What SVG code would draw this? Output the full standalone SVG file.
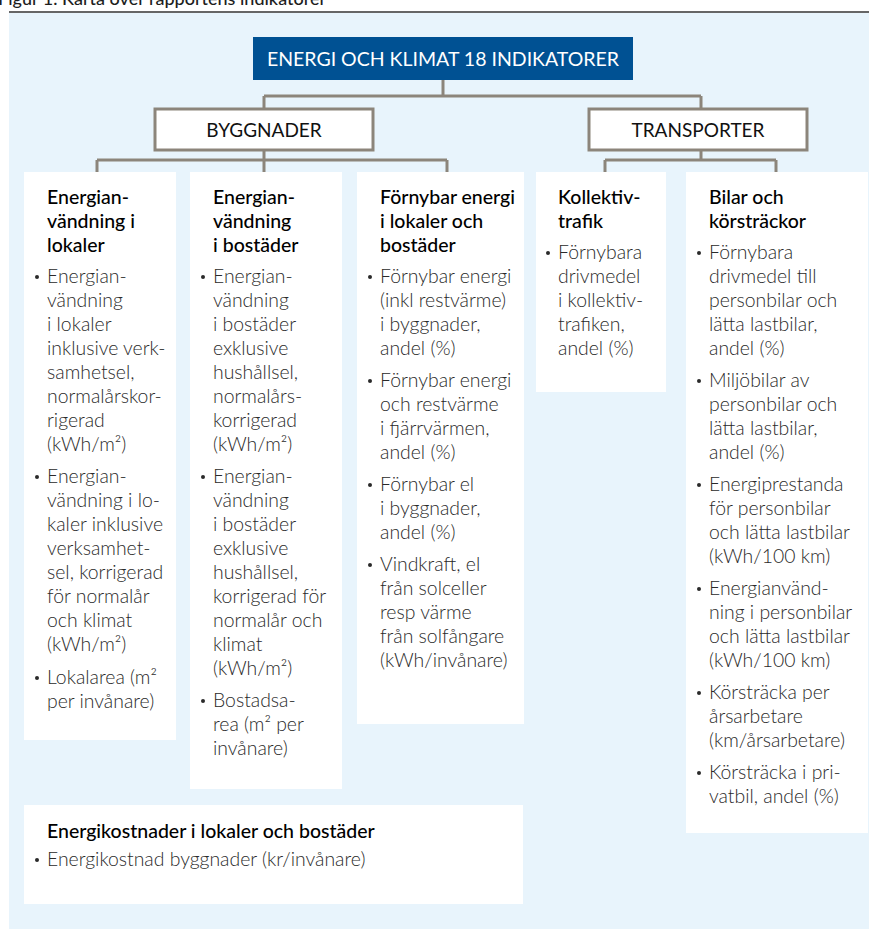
<svg xmlns="http://www.w3.org/2000/svg" width="869" height="930" viewBox="0 0 869 930">
  <style>
    .bg { fill: #e8f4fc; }
    .card { fill: #ffffff; }
    .cat { fill: #ffffff; stroke: #8c857b; stroke-width: 3; }
    .wire { fill: none; stroke: #8c857b; stroke-width: 3; }
    text { font-family: Lato, "Open Sans", sans-serif; fill: #1e1e1e; }
    .cap { font-size: 18px; font-weight: 500; }
    .title { font-size: 19.5px; fill: #ffffff; text-anchor: middle; }
    .catlbl { font-size: 19px; text-anchor: middle; fill: #111; }
    .h { font-size: 19.5px; font-weight: 500; fill: #000; }
    .b { font-size: 19.4px; font-weight: 300; fill: #2a2a2a; }
    .dot { fill: #2a2a2a; }
  </style>

  <!-- caption and rule -->
  <text class="cap" x="-2" y="5">Figur 1. Karta över rapportens indikatorer</text>
  <line x1="9" y1="12" x2="869" y2="12" stroke="#333" stroke-width="1.5"/>
  <rect class="bg" x="9" y="13" width="860" height="916"/>

  <!-- connectors -->
  <g id="connectors">
    <path class="wire" d="M443 80 V96 M264 96 H701 M264 96 V108 M701 96 V108"/>
    <path class="wire" d="M264 150 V160 M97 160 H447 M97 160 V172 M264 160 V172 M447 160 V172"/>
    <path class="wire" d="M701 150 V160 M605 160 H776 M605 160 V172 M776 160 V172"/>
  </g>

  <!-- root -->
  <g id="root">
    <rect x="253" y="37" width="380" height="43" fill="#005193"/>
    <text class="title" x="443" y="65.5">ENERGI OCH KLIMAT 18 INDIKATORER</text>
  </g>

  <g id="byggnader">
    <rect class="cat" x="155" y="109" width="218" height="41"/>
    <text class="catlbl" x="264" y="136.5">BYGGNADER</text>
  </g>

  <g id="transporter">
    <rect class="cat" x="589" y="109" width="218" height="41"/>
    <text class="catlbl" x="698" y="136.5">TRANSPORTER</text>
  </g>

  <!-- column 1 -->
  <g id="lokaler">
    <rect class="card" x="24" y="172" width="152" height="568"/>
    <text class="h" x="47" y="204">Energian-</text>
    <text class="h" x="47" y="228">vändning i</text>
    <text class="h" x="47" y="252">lokaler</text>
    <circle class="dot" cx="37" cy="277" r="2"/>
    <text class="b" x="47" y="283">Energian-</text>
    <text class="b" x="47" y="307">vändning</text>
    <text class="b" x="47" y="331">i lokaler</text>
    <text class="b" x="47" y="355">inklusive verk-</text>
    <text class="b" x="47" y="379">samhetsel,</text>
    <text class="b" x="47" y="403">normalårskor-</text>
    <text class="b" x="47" y="427">rigerad</text>
    <text class="b" x="47" y="451">(kWh/m²)</text>
    <circle class="dot" cx="37" cy="477" r="2"/>
    <text class="b" x="47" y="483">Energian-</text>
    <text class="b" x="47" y="507">vändning i lo-</text>
    <text class="b" x="47" y="531">kaler inklusive</text>
    <text class="b" x="47" y="555">verksamhet-</text>
    <text class="b" x="47" y="579">sel, korrigerad</text>
    <text class="b" x="47" y="603">för normalår</text>
    <text class="b" x="47" y="627">och klimat</text>
    <text class="b" x="47" y="651">(kWh/m²)</text>
    <circle class="dot" cx="37" cy="678" r="2"/>
    <text class="b" x="47" y="684">Lokalarea (m²</text>
    <text class="b" x="47" y="708">per invånare)</text>
  </g>

  <!-- column 2 -->
  <g id="bostader">
    <rect class="card" x="190" y="172" width="152" height="617"/>
    <text class="h" x="213" y="204">Energian-</text>
    <text class="h" x="213" y="228">vändning</text>
    <text class="h" x="213" y="252">i bostäder</text>
    <circle class="dot" cx="203" cy="277" r="2"/>
    <text class="b" x="213" y="283">Energian-</text>
    <text class="b" x="213" y="307">vändning</text>
    <text class="b" x="213" y="331">i bostäder</text>
    <text class="b" x="213" y="355">exklusive</text>
    <text class="b" x="213" y="379">hushållsel,</text>
    <text class="b" x="213" y="403">normalårs-</text>
    <text class="b" x="213" y="427">korrigerad</text>
    <text class="b" x="213" y="451">(kWh/m²)</text>
    <circle class="dot" cx="203" cy="477" r="2"/>
    <text class="b" x="213" y="483">Energian-</text>
    <text class="b" x="213" y="507">vändning</text>
    <text class="b" x="213" y="531">i bostäder</text>
    <text class="b" x="213" y="555">exklusive</text>
    <text class="b" x="213" y="579">hushållsel,</text>
    <text class="b" x="213" y="603">korrigerad för</text>
    <text class="b" x="213" y="627">normalår och</text>
    <text class="b" x="213" y="651">klimat</text>
    <text class="b" x="213" y="675">(kWh/m²)</text>
    <circle class="dot" cx="203" cy="701" r="2"/>
    <text class="b" x="213" y="707">Bostadsa-</text>
    <text class="b" x="213" y="731">rea (m² per</text>
    <text class="b" x="213" y="755">invånare)</text>
  </g>

  <!-- column 3 -->
  <g id="fornybar">
    <rect class="card" x="357" y="172" width="167" height="552"/>
    <text class="h" x="380" y="204">Förnybar energi</text>
    <text class="h" x="380" y="228">i lokaler och</text>
    <text class="h" x="380" y="252">bostäder</text>
    <circle class="dot" cx="370" cy="277" r="2"/>
    <text class="b" x="380" y="283">Förnybar energi</text>
    <text class="b" x="380" y="307">(inkl restvärme)</text>
    <text class="b" x="380" y="331">i byggnader,</text>
    <text class="b" x="380" y="355">andel (%)</text>
    <circle class="dot" cx="370" cy="381" r="2"/>
    <text class="b" x="380" y="387">Förnybar energi</text>
    <text class="b" x="380" y="411">och restvärme</text>
    <text class="b" x="380" y="435">i fjärrvärmen,</text>
    <text class="b" x="380" y="459">andel (%)</text>
    <circle class="dot" cx="370" cy="485" r="2"/>
    <text class="b" x="380" y="491">Förnybar el</text>
    <text class="b" x="380" y="515">i byggnader,</text>
    <text class="b" x="380" y="539">andel (%)</text>
    <circle class="dot" cx="370" cy="565" r="2"/>
    <text class="b" x="380" y="571">Vindkraft, el</text>
    <text class="b" x="380" y="595">från solceller</text>
    <text class="b" x="380" y="619">resp värme</text>
    <text class="b" x="380" y="643">från solfångare</text>
    <text class="b" x="380" y="667">(kWh/invånare)</text>
  </g>

  <!-- column 4 -->
  <g id="kollektivtrafik">
    <rect class="card" x="536" y="172" width="130" height="220"/>
    <text class="h" x="558" y="204">Kollektiv-</text>
    <text class="h" x="558" y="228">trafik</text>
    <circle class="dot" cx="548" cy="253" r="2"/>
    <text class="b" x="558" y="259">Förnybara</text>
    <text class="b" x="558" y="283">drivmedel</text>
    <text class="b" x="558" y="307">i kollektiv-</text>
    <text class="b" x="558" y="331">trafiken,</text>
    <text class="b" x="558" y="355">andel (%)</text>
  </g>

  <!-- column 5 -->
  <g id="bilar">
    <rect class="card" x="686" y="172" width="182" height="661"/>
    <text class="h" x="709" y="204">Bilar och</text>
    <text class="h" x="709" y="228">körsträckor</text>
    <circle class="dot" cx="699" cy="253" r="2"/>
    <text class="b" x="709" y="259">Förnybara</text>
    <text class="b" x="709" y="283">drivmedel till</text>
    <text class="b" x="709" y="307">personbilar och</text>
    <text class="b" x="709" y="331">lätta lastbilar,</text>
    <text class="b" x="709" y="355">andel (%)</text>
    <circle class="dot" cx="699" cy="381" r="2"/>
    <text class="b" x="709" y="387">Miljöbilar av</text>
    <text class="b" x="709" y="411">personbilar och</text>
    <text class="b" x="709" y="435">lätta lastbilar,</text>
    <text class="b" x="709" y="459">andel (%)</text>
    <circle class="dot" cx="699" cy="485" r="2"/>
    <text class="b" x="709" y="491">Energiprestanda</text>
    <text class="b" x="709" y="515">för personbilar</text>
    <text class="b" x="709" y="539">och lätta lastbilar</text>
    <text class="b" x="709" y="563">(kWh/100 km)</text>
    <circle class="dot" cx="699" cy="589" r="2"/>
    <text class="b" x="709" y="595">Energianvänd-</text>
    <text class="b" x="709" y="619">ning i personbilar</text>
    <text class="b" x="709" y="643">och lätta lastbilar</text>
    <text class="b" x="709" y="667">(kWh/100 km)</text>
    <circle class="dot" cx="699" cy="693" r="2"/>
    <text class="b" x="709" y="699">Körsträcka per</text>
    <text class="b" x="709" y="723">årsarbetare</text>
    <text class="b" x="709" y="747">(km/årsarbetare)</text>
    <circle class="dot" cx="699" cy="773" r="2"/>
    <text class="b" x="709" y="779">Körsträcka i pri-</text>
    <text class="b" x="709" y="803">vatbil, andel (%)</text>
  </g>

  <!-- bottom card -->
  <g id="energikostnader">
    <rect class="card" x="24" y="805" width="499" height="99"/>
    <text class="h" x="47" y="838">Energikostnader i lokaler och bostäder</text>
    <circle class="dot" cx="37" cy="860" r="2"/>
    <text class="b" x="47" y="866">Energikostnad byggnader (kr/invånare)</text>
  </g>
</svg>
